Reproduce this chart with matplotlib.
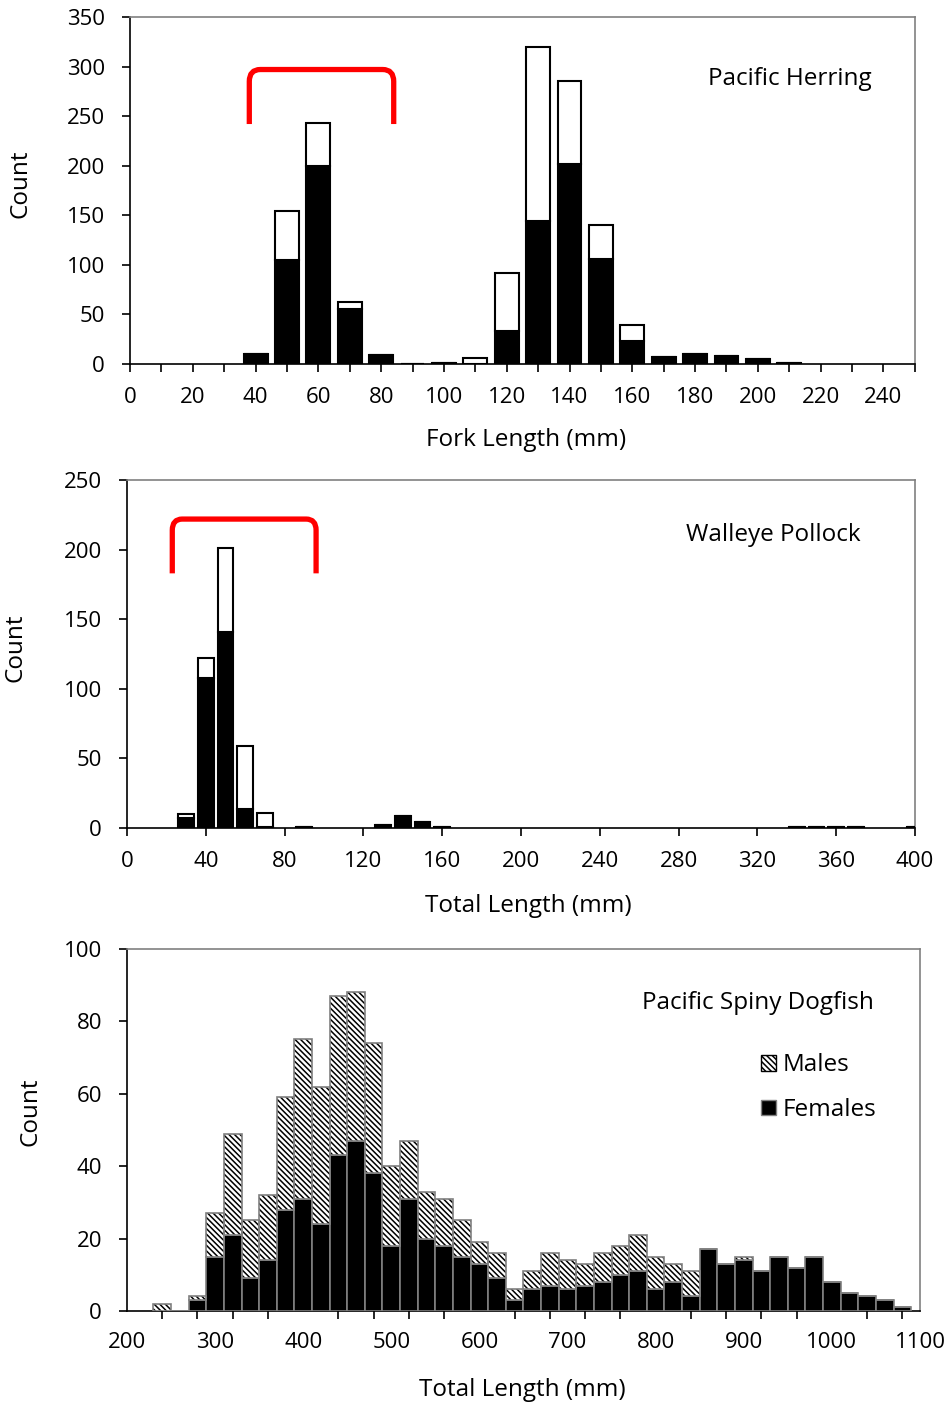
import matplotlib
matplotlib.use("Agg")
import matplotlib.pyplot as plt
import numpy as np
from matplotlib.path import Path
from matplotlib.patches import PathPatch, Patch

plt.rcParams['font.family'] = ['Open Sans', 'DejaVu Sans']
plt.rcParams['hatch.linewidth'] = 1.1

# Pacific Herring, fork length bins (mm)
herring_len = [40, 50, 60, 70, 80, 90, 100, 110, 120, 130, 140, 150, 160, 170, 180, 190, 200, 210]
herring_dark = [10, 105, 200, 55, 9, 0, 1, 0, 33, 144, 202, 106, 23, 7, 10, 8, 5, 1]
herring_light = [0, 49, 43, 7, 0, 0, 0, 6, 59, 176, 83, 34, 16, 0, 0, 0, 0, 0]

# Walleye Pollock, total length bins (mm)
pollock_len = [30, 40, 50, 60, 70, 90, 130, 140, 150, 160, 340, 350, 360, 370, 400]
pollock_dark = [7, 108, 141, 14, 1, 1, 2, 9, 4, 1, 1, 1, 1, 1, 1]
pollock_light = [3, 14, 60, 45, 10, 0, 0, 0, 0, 0, 0, 0, 0, 0, 0]

# Pacific Spiny Dogfish, total length bins (mm)
dogfish_len = list(range(240, 1081, 20))
dogfish_females = [0, 0, 3, 15, 21, 9, 14, 28, 31, 24, 43, 47, 38, 18, 31, 20, 18, 15, 13, 9, 3,
                   6, 7, 6, 7, 8, 10, 11, 6, 8, 4, 17, 13, 14, 11, 15, 12, 15, 8, 5, 4, 3, 1]
dogfish_males = [2, 0, 1, 12, 28, 16, 18, 31, 44, 38, 44, 41, 36, 22, 16, 13, 13, 10, 6, 7, 3,
                 5, 9, 8, 6, 8, 8, 10, 9, 5, 7, 0, 0, 1, 0, 0, 0, 0, 0, 0, 0, 0, 0]

GRAY = '#808080'
HATCH = '\\' * 6
TICK_FS = 16
LABEL_FS = 17.5


def style_axes(ax, xpad=10.4):
    for s in ['top', 'right']:
        ax.spines[s].set_color(GRAY)
        ax.spines[s].set_linewidth(1.2)
    for s in ['left', 'bottom']:
        ax.spines[s].set_color('black')
        ax.spines[s].set_linewidth(1.2)
    ax.tick_params(axis='both', which='both', direction='out', length=6, width=1.2,
                   labelsize=TICK_FS, top=False, right=False)
    ax.tick_params(axis='x', pad=xpad)
    ax.tick_params(axis='y', pad=12)


def set_labels(ax, xlabel, xpos, ypos):
    ax.set_xlabel(xlabel, fontsize=LABEL_FS)
    ax.set_ylabel('Count', fontsize=LABEL_FS)
    ax.xaxis.label.set_va('center')
    ax.yaxis.label.set_va('center')
    ax.xaxis.set_label_coords(*xpos)
    ax.yaxis.set_label_coords(*ypos)


def bracket(ax, x0, x1, yb, yt, dx, r):
    verts = [(x0, yb), (x0, yt - r), (x0, yt), (x0 + dx, yt),
             (x1 - dx, yt), (x1, yt), (x1, yt - r), (x1, yb)]
    codes = [Path.MOVETO, Path.LINETO, Path.CURVE3, Path.CURVE3,
             Path.LINETO, Path.CURVE3, Path.CURVE3, Path.LINETO]
    ax.add_patch(PathPatch(Path(verts, codes), fill=False, edgecolor='#ff0000',
                           linewidth=3.8, capstyle='butt', joinstyle='round', zorder=5))


fig = plt.figure(figsize=(9.49, 14.03), dpi=100)

# ---- top: Pacific Herring
ax1 = fig.add_axes([0.137, 0.7406, 0.827, 0.2473])
ax1.bar(herring_len, herring_dark, width=7.6, color='black', edgecolor='black', linewidth=1.5, zorder=3)
ax1.bar(herring_len, herring_light, width=7.6, bottom=herring_dark, color='white',
        edgecolor='black', linewidth=1.5, zorder=3)
ax1.set_xlim(0, 250)
ax1.set_ylim(0, 350)
ax1.set_xticks(np.arange(0, 251, 10))
ax1.set_xticklabels([str(v) if v % 20 == 0 and v < 250 else '' for v in range(0, 251, 10)])
ax1.set_yticks(np.arange(0, 351, 50))
style_axes(ax1)
set_labels(ax1, 'Fork Length (mm)', (0.504, -0.219), (-0.14, 0.52))
ax1.text(0.841, 0.821, 'Pacific Herring', transform=ax1.transAxes, fontsize=LABEL_FS,
         ha='center', va='center')
bracket(ax1, 38, 84, 242, 297, 3.5, 12)

# ---- middle: Walleye Pollock
ax2 = fig.add_axes([0.1338, 0.4098, 0.8303, 0.248])
ax2.bar(pollock_len, pollock_dark, width=8, color='black', edgecolor='black', linewidth=1.5, zorder=3)
ax2.bar(pollock_len, pollock_light, width=8, bottom=pollock_dark, color='white',
        edgecolor='black', linewidth=1.5, zorder=3)
ax2.set_xlim(0, 400)
ax2.set_ylim(0, 250)
ax2.set_xticks(np.arange(0, 401, 40))
ax2.set_yticks(np.arange(0, 251, 50))
style_axes(ax2)
set_labels(ax2, 'Total Length (mm)', (0.509, -0.225), (-0.142, 0.517))
ax2.text(0.82, 0.842, 'Walleye Pollock', transform=ax2.transAxes, fontsize=LABEL_FS,
         ha='center', va='center')
bracket(ax2, 23, 96, 183, 222, 5, 8)

# ---- bottom: Pacific Spiny Dogfish
ax3 = fig.add_axes([0.1338, 0.0656, 0.8356, 0.258])
ax3.bar(dogfish_len, dogfish_females, width=20, color='black', edgecolor=GRAY, linewidth=1.2, zorder=3)
ax3.bar(dogfish_len, dogfish_males, width=20, bottom=dogfish_females, color='white',
        edgecolor='black', hatch=HATCH, linewidth=0, zorder=3)
ax3.bar(dogfish_len, dogfish_males, width=20, bottom=dogfish_females, fill=False,
        edgecolor=GRAY, linewidth=1.2, zorder=4)
ax3.set_xlim(200, 1100)
ax3.set_ylim(0, 100)
ax3.set_xticks(np.arange(200, 1101, 100))
ax3.set_xticks(np.arange(200, 1081, 40), minor=True)
ax3.set_yticks(np.arange(0, 101, 20))
style_axes(ax3)
ax3.tick_params(axis='x', which='major', length=0, pad=15.5)
set_labels(ax3, 'Total Length (mm)', (0.498, -0.218), (-0.122, 0.55))
ax3.text(0.796, 0.851, 'Pacific Spiny Dogfish', transform=ax3.transAxes, fontsize=LABEL_FS,
         ha='center', va='center')
handles = [Patch(facecolor='white', edgecolor='black', hatch=HATCH, label='Males'),
           Patch(facecolor='black', edgecolor=GRAY, label='Females')]
ax3.legend(handles=handles, loc='upper left', bbox_to_anchor=(0.772, 0.772), frameon=False,
           fontsize=LABEL_FS, handlelength=0.6, handleheight=0.6, handletextpad=0.3,
           labelspacing=0.85)

fig.savefig('out.png', dpi=100)
